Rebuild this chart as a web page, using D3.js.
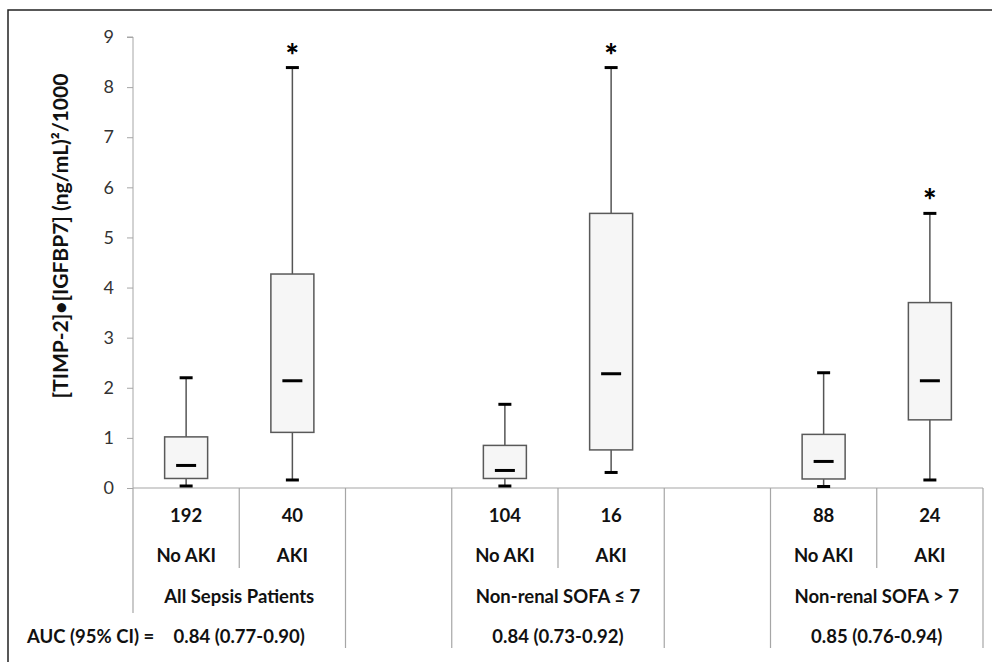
<!DOCTYPE html>
<html>
<head>
<meta charset="utf-8">
<script src="https://cdn.jsdelivr.net/npm/d3@7"></script>
<style>
  body { margin: 0; background: #fff; }
  text { font-family: Lato, "Open Sans", sans-serif; }
</style>
</head>
<body>
<div id="chart-area"></div>
<script>
// slots along the x axis (empty strings are the gaps between groups)
var slots = ["192", "40", "", "104", "16", "", "88", "24"];
var boxSlots = [0, 1, 3, 4, 6, 7];
var akiLabels = ["No AKI", "AKI", "No AKI", "AKI", "No AKI", "AKI"];
var groups = ["All Sepsis Patients", "Non-renal SOFA \u2264 7", "Non-renal SOFA > 7"];
var aucText = ["0.84 (0.77-0.90)", "0.84 (0.73-0.92)", "0.85 (0.76-0.94)"];

var whiskerLow = [0.04, 0.16, 0.04, 0.31, 0.03, 0.16];
var q1 = [0.19, 1.11, 0.19, 0.76, 0.18, 1.36];
var median = [0.45, 2.14, 0.35, 2.28, 0.53, 2.14];
var q3 = [1.02, 4.27, 0.85, 5.48, 1.07, 3.70];
var whiskerHigh = [2.20, 8.39, 1.67, 8.39, 2.30, 5.48];
var significant = [false, true, false, true, false, true];
var yTicks = [0, 1, 2, 3, 4, 5, 6, 7, 8, 9];

var W = 992, H = 662;
var plotLeft = 133, plotRight = 983, plotTop = 37, base = 488;

var svg = d3.select("#chart-area").append("svg")
  .attr("width", W).attr("height", H);

// outer frame (right and bottom edges fall outside the picture)
svg.append("rect")
  .attr("x", 8).attr("y", 10).attr("width", 1000).attr("height", 700)
  .attr("fill", "none").attr("stroke", "#222").attr("stroke-width", 1.5);

var x = d3.scaleBand().domain(d3.range(slots.length)).range([plotLeft, plotRight]).padding(0);
var y = d3.scaleLinear().domain([0, 9]).range([base, plotTop]);

// y axis
var yAxis = d3.axisLeft(y).tickValues(yTicks).tickSize(6).tickPadding(13);
var ya = svg.append("g").attr("transform", "translate(" + plotLeft + ",0)").call(yAxis);
ya.select(".domain").attr("stroke", "#a6a6a6").attr("d", "M-6," + y(9) + "H0V" + base);
ya.selectAll(".tick line").attr("stroke", "#a6a6a6");
ya.selectAll(".tick text").attr("fill", "#333").style("font-size", "18px")
  .style("font-family", "Lato, 'Open Sans', sans-serif");

svg.append("text")
  .attr("transform", "translate(68,236) rotate(-90)")
  .attr("text-anchor", "middle")
  .attr("font-weight", "bold").attr("font-size", 21).attr("fill", "#111")
  .text("[TIMP-2]\u2022[IGFBP7] (ng/mL)\u00b2/1000");

// table grid below the axis
var grid = svg.append("g").attr("stroke", "#a6a6a6").attr("stroke-width", 1.2);
grid.append("line").attr("x1", plotLeft).attr("x2", plotRight).attr("y1", base).attr("y2", base);
// left axis line down to the group row
grid.append("line").attr("x1", plotLeft).attr("x2", plotLeft).attr("y1", base).attr("y2", 613);
// separators inside a group (between No AKI and AKI)
[1, 4, 7].forEach(function (i) {
  grid.append("line").attr("x1", x(i)).attr("x2", x(i)).attr("y1", base).attr("y2", 568);
});
// group separators
[2, 3, 5, 6, 8].forEach(function (i) {
  var xx = i < slots.length ? x(i) : plotRight;
  grid.append("line").attr("x1", xx).attr("x2", xx).attr("y1", base).attr("y2", 648);
});

var bw = x.bandwidth();
var boxW = 43, capW = 13, medW = 20;

var boxes = svg.selectAll("g.box").data(boxSlots).enter().append("g").attr("class", "box");

boxes.append("line")
  .attr("x1", function (s) { return x(s) + bw / 2; })
  .attr("x2", function (s) { return x(s) + bw / 2; })
  .attr("y1", function (s, i) { return y(whiskerHigh[i]); })
  .attr("y2", function (s, i) { return y(whiskerLow[i]); })
  .attr("stroke", "#555").attr("stroke-width", 1.5);

boxes.append("rect")
  .attr("x", function (s) { return x(s) + bw / 2 - boxW / 2; })
  .attr("y", function (s, i) { return y(q3[i]); })
  .attr("width", boxW)
  .attr("height", function (s, i) { return y(q1[i]) - y(q3[i]); })
  .attr("fill", "#f6f6f6").attr("stroke", "#595959").attr("stroke-width", 1.5);

function hline(cls, arr, w) {
  boxes.append("line").attr("class", cls)
    .attr("x1", function (s) { return x(s) + bw / 2 - w / 2; })
    .attr("x2", function (s) { return x(s) + bw / 2 + w / 2; })
    .attr("y1", function (s, i) { return y(arr[i]); })
    .attr("y2", function (s, i) { return y(arr[i]); })
    .attr("stroke", "#000").attr("stroke-width", 3);
}
hline("hi", whiskerHigh, capW);
hline("lo", whiskerLow, capW);
hline("med", median, medW);

boxes.filter(function (s, i) { return significant[i]; })
  .append("text")
  .attr("x", function (s) { return x(s) + bw / 2; })
  .attr("y", function (s) { var i = boxSlots.indexOf(s); return y(whiskerHigh[i]) - 1; })
  .attr("text-anchor", "middle").attr("font-weight", "900").attr("font-size", 32)
  .text("*");

// table text
var txt = svg.append("g").attr("font-weight", "bold").attr("font-size", 18.5)
  .attr("fill", "#111").attr("text-anchor", "middle");

txt.selectAll("text.n").data(boxSlots).enter().append("text").attr("class", "n")
  .attr("x", function (s) { return x(s) + bw / 2; }).attr("y", 522)
  .text(function (s) { return slots[s]; });

txt.selectAll("text.st").data(boxSlots).enter().append("text").attr("class", "st")
  .attr("x", function (s) { return x(s) + bw / 2; }).attr("y", 562)
  .text(function (s, i) { return akiLabels[i]; });

txt.selectAll("text.gr").data(groups).enter().append("text").attr("class", "gr")
  .attr("x", function (d, i) { return x(boxSlots[i * 2]) + bw; }).attr("y", 603)
  .text(function (d) { return d; });

txt.selectAll("text.auc").data(aucText).enter().append("text").attr("class", "auc")
  .attr("x", function (d, i) { return x(boxSlots[i * 2]) + bw; }).attr("y", 643)
  .text(function (d) { return d; });

txt.append("text").attr("x", 27).attr("y", 643).attr("text-anchor", "start")
  .text("AUC (95% CI) =");
</script>
</body>
</html>
